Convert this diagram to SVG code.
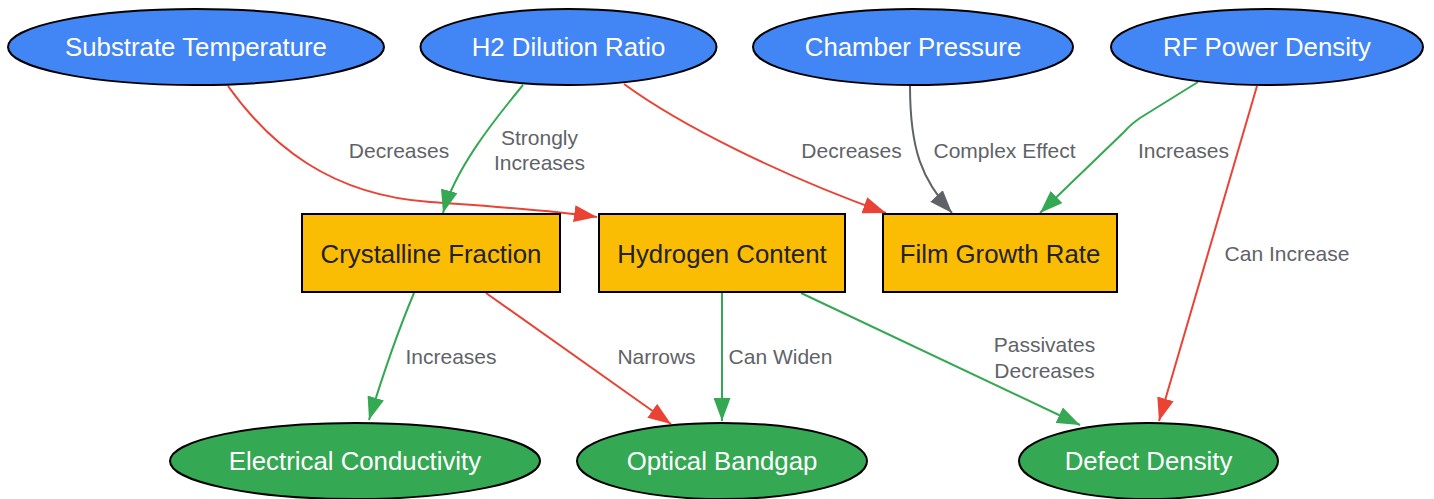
<svg xmlns="http://www.w3.org/2000/svg" width="1434" height="499" viewBox="0 0 1434 499">
<style>
.top ellipse{fill:#4285f4;stroke:#000;stroke-width:2}
.mid rect{fill:#fbbc04;stroke:#000;stroke-width:2}
.bot ellipse{fill:#34a853;stroke:#000;stroke-width:2}
.nt{font-family:"Liberation Sans",Arial,sans-serif;font-size:25.8px;text-anchor:middle}
.top text,.bot text{fill:#fff}
.mid text{fill:#222}
.e{fill:none;stroke-width:2}
.r{stroke:#ea4335}.g{stroke:#34a853}.k{stroke:#5f6368}
.lb{font-family:"Liberation Sans",Arial,sans-serif;font-size:21px;fill:#5f6368;text-anchor:middle}
</style>
<defs>
<marker id="ar" markerUnits="userSpaceOnUse" markerWidth="23" markerHeight="17" refX="23" refY="8.5" orient="auto"><path d="M0,0 L23,8.5 L0,17 z" fill="#ea4335"/></marker>
<marker id="ag" markerUnits="userSpaceOnUse" markerWidth="23" markerHeight="17" refX="23" refY="8.5" orient="auto"><path d="M0,0 L23,8.5 L0,17 z" fill="#34a853"/></marker>
<marker id="ak" markerUnits="userSpaceOnUse" markerWidth="23" markerHeight="17" refX="23" refY="8.5" orient="auto"><path d="M0,0 L23,8.5 L0,17 z" fill="#5f6368"/></marker>
</defs>
<rect width="1434" height="499" fill="#fff"/>
<g id="edges">
<path class="e r" d="M228,86 C270,145 330,195 430,202 C500,207 550,210 597,217" marker-end="url(#ar)"/>
<path class="e g" d="M523,85 C490,125 455,170 443,213" marker-end="url(#ag)"/>
<path class="e r" d="M624,84 C680,125 780,175 886,213" marker-end="url(#ar)"/>
<path class="e k" d="M910,86 C910,150 922,180 952,213" marker-end="url(#ak)"/>
<path class="e g" d="M1198,82 L1140,118 Q1130,125 1124,132 L1040,213" marker-end="url(#ag)"/>
<path class="e r" d="M1257,86 L1159,421" marker-end="url(#ar)"/>
<path class="e g" d="M414,293 Q392,345 369,420" marker-end="url(#ag)"/>
<path class="e r" d="M486,293 L671,424" marker-end="url(#ar)"/>
<path class="e g" d="M722,293 L722,421" marker-end="url(#ag)"/>
<path class="e g" d="M801,293 L1080,425" marker-end="url(#ag)"/>
<text class="lb" x="399" y="158">Decreases</text>
<text class="lb" x="539.5" y="145">Strongly</text>
<text class="lb" x="539.5" y="170">Increases</text>
<text class="lb" x="851.5" y="158">Decreases</text>
<text class="lb" x="1004.5" y="158">Complex Effect</text>
<text class="lb" x="1183.5" y="158">Increases</text>
<text class="lb" x="1287" y="261">Can Increase</text>
<text class="lb" x="451" y="364">Increases</text>
<text class="lb" x="656.5" y="364">Narrows</text>
<text class="lb" x="780.5" y="364">Can Widen</text>
<text class="lb" x="1044.5" y="352">Passivates</text>
<text class="lb" x="1044.5" y="378">Decreases</text>
</g>
<g id="substrate-temperature" class="top"><ellipse cx="196" cy="47" rx="188" ry="38"/><text class="nt" x="196" y="56">Substrate Temperature</text></g>
<g id="h2-dilution-ratio" class="top"><ellipse cx="568.5" cy="47" rx="148" ry="38"/><text class="nt" x="568.5" y="56">H2 Dilution Ratio</text></g>
<g id="chamber-pressure" class="top"><ellipse cx="913" cy="47" rx="160" ry="38"/><text class="nt" x="913" y="56">Chamber Pressure</text></g>
<g id="rf-power-density" class="top"><ellipse cx="1267" cy="47" rx="156" ry="38"/><text class="nt" x="1267" y="56">RF Power Density</text></g>
<g id="crystalline-fraction" class="mid"><rect x="302" y="214" width="258" height="78"/><text class="nt" x="431" y="263">Crystalline Fraction</text></g>
<g id="hydrogen-content" class="mid"><rect x="599" y="214" width="246" height="78"/><text class="nt" x="722" y="263">Hydrogen Content</text></g>
<g id="film-growth-rate" class="mid"><rect x="883" y="214" width="234" height="78"/><text class="nt" x="1000" y="263">Film Growth Rate</text></g>
<g id="electrical-conductivity" class="bot"><ellipse cx="355" cy="461" rx="185" ry="38"/><text class="nt" x="355" y="470">Electrical Conductivity</text></g>
<g id="optical-bandgap" class="bot"><ellipse cx="722" cy="461" rx="145" ry="38"/><text class="nt" x="722" y="470">Optical Bandgap</text></g>
<g id="defect-density" class="bot"><ellipse cx="1148.5" cy="461" rx="129.5" ry="38"/><text class="nt" x="1148.5" y="470">Defect Density</text></g>
</svg>
